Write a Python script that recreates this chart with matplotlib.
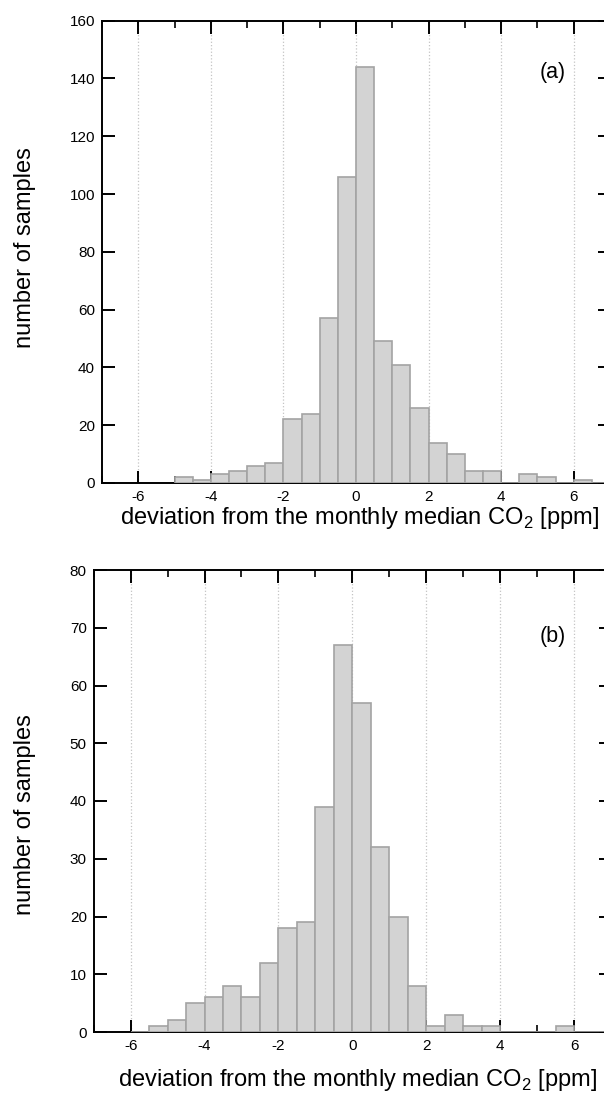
import numpy as np
import matplotlib
matplotlib.use('Agg')
import matplotlib.pyplot as plt
from matplotlib.ticker import MultipleLocator

plt.rcParams['font.family'] = ['Liberation Sans', 'DejaVu Sans']
plt.rcParams['mathtext.fontset'] = 'custom'
plt.rcParams['mathtext.rm'] = 'Liberation Sans'
plt.rcParams['axes.unicode_minus'] = False

# bin edges (0.5 ppm bins) and counts
edges_a = np.arange(-5.0, 7.01, 0.5)
counts_a = [2, 1, 3, 4, 6, 7, 22, 24, 57, 106, 144, 49, 41, 26,
            14, 10, 4, 4, 0, 3, 2, 0, 1, 0]

edges_b = np.arange(-6.0, 7.01, 0.5)
counts_b = [0, 1, 2, 5, 6, 8, 6, 12, 18, 19, 39, 67, 57, 32, 20,
            8, 1, 3, 1, 1, 0, 0, 0, 1, 0, 0]

panels = [
    (edges_a, counts_a, 160, 20, '(a)', 0.889),
    (edges_b, counts_b, 80, 10, '(b)', 0.855),
]

W, H = 604, 1105
fig = plt.figure(figsize=(W / 100, H / 100), dpi=100)
# axes in pixel boxes: left, top, right, bottom
boxes = [(102, 20.7, 610, 483), (93.7, 570, 611, 1032)]

for (edges, counts, ymax, ystep, tag, tag_y), (l, t, r, b) in zip(panels, boxes):
    ax = fig.add_axes([l / W, 1 - b / H, (r - l) / W, (b - t) / H])
    ax.bar(edges[:-1], counts, width=0.5, align='edge',
           color='#d3d3d3', edgecolor='#a3a3a3', linewidth=1.2, zorder=2)
    ax.set_xlim(-7, 7)
    ax.set_ylim(0, ymax)
    ax.set_axisbelow(True)
    for s in ax.spines.values():
        s.set_linewidth(1.4)
        s.set_zorder(0.6)
    ax.xaxis.set_major_locator(MultipleLocator(2))
    ax.xaxis.set_minor_locator(MultipleLocator(1))
    ax.yaxis.set_major_locator(MultipleLocator(ystep))
    ax.tick_params(which='both', direction='in', top=True, right=True,
                   labelsize=11, pad=5)
    ax.tick_params(which='major', length=9, width=1.4)
    ax.tick_params(which='minor', length=5, width=1.2, left=False, right=False)
    ax.grid(axis='x', which='major', linestyle=':', color='#c4c4c4',
            linewidth=0.9)
    ax.text(0.888, tag_y, tag, transform=ax.transAxes, fontsize=15.5,
            ha='center', va='center')

fig.text(25 / W, 1 - 248 / H, 'number of samples', rotation=90,
         fontsize=17, ha='center', va='center')
fig.text(25 / W, 1 - 815 / H, 'number of samples', rotation=90,
         fontsize=17, ha='center', va='center')
fig.text(360 / W, 1 - 518 / H, 'deviation from the monthly median CO$_2$ [ppm]',
         fontsize=17, ha='center', va='center')
fig.text(358 / W, 1 - 1080 / H, 'deviation from the monthly median CO$_2$ [ppm]',
         fontsize=17, ha='center', va='center')

fig.savefig('out.png', dpi=100)
